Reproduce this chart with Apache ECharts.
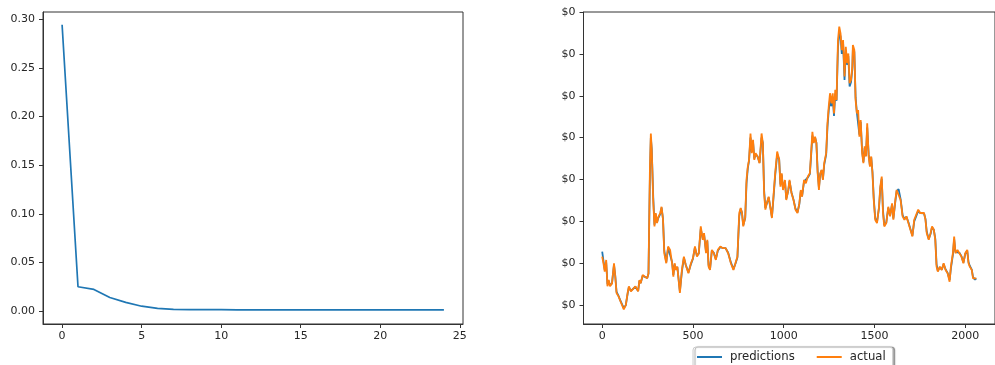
<!DOCTYPE html>
<html>
<head>
<meta charset="utf-8">
<script src="https://cdn.jsdelivr.net/npm/echarts@6/dist/echarts.min.js"></script>
<style>
  html, body { margin: 0; padding: 0; background: #fff; }
  #chart { width: 995px; height: 365px; }
</style>
</head>
<body>
<div id="chart"></div>
<script>
// training loss per epoch (left plot)
var epochs = [0, 1, 2, 3, 4, 5, 6, 7, 8, 9, 10, 11, 12, 13, 14, 15, 16, 17, 18, 19, 20, 21, 22, 23, 24];
var loss = [0.2945, 0.0250, 0.0223, 0.0140, 0.0089, 0.0050, 0.0028, 0.0018, 0.0015, 0.0014, 0.0014, 0.0013,
  0.0013, 0.0013, 0.0013, 0.0013, 0.0012, 0.0012, 0.0012, 0.0012, 0.0012, 0.0012, 0.0012, 0.0012, 0.0012];
var lossTicksX = [0, 5, 10, 15, 20, 25];
var lossTicksY = [0, 0.05, 0.10, 0.15, 0.20, 0.25, 0.30];

// price series (right plot), y in cents
var priceX = [0, 7, 14, 22, 29, 36, 43, 54, 65, 72, 79, 90, 101, 112, 119, 130, 140, 147, 158, 169, 183, 198, 205, 212,
  223, 234, 248, 255, 263, 268, 273, 281, 288, 295, 302, 309, 320, 327, 335, 342, 353, 363, 374, 385, 392, 399, 406,
  414, 428, 439, 450, 460, 475, 489, 500, 511, 522, 532, 543, 554, 561, 572, 579, 586, 594, 604, 615, 626, 637, 651,
  665, 680, 694, 709, 723, 734, 745, 755, 763, 770, 777, 788, 795, 802, 809, 817, 824, 831, 838, 845, 856, 867, 878,
  885, 892, 899, 906, 917, 928, 935, 942, 953, 964, 975, 982, 989, 996, 1007, 1014, 1025, 1032, 1043, 1054, 1065,
  1076, 1086, 1094, 1101, 1112, 1122, 1133, 1144, 1151, 1158, 1165, 1173, 1180, 1187, 1194, 1201, 1209, 1216, 1223,
  1234, 1241, 1248, 1255, 1263, 1270, 1277, 1284, 1291, 1299, 1306, 1313, 1320, 1327, 1335, 1342, 1349, 1356, 1363,
  1371, 1378, 1381, 1389, 1396, 1403, 1410, 1417, 1424, 1432, 1439, 1446, 1453, 1460, 1468, 1475, 1482, 1489, 1496,
  1504, 1514, 1525, 1532, 1540, 1547, 1554, 1565, 1576, 1586, 1597, 1604, 1615, 1622, 1633, 1644, 1655, 1665, 1676,
  1687, 1698, 1709, 1719, 1730, 1741, 1752, 1763, 1773, 1781, 1788, 1799, 1809, 1817, 1827, 1835, 1842, 1849, 1860,
  1871, 1881, 1892, 1903, 1914, 1921, 1932, 1939, 1946, 1957, 1968, 1979, 1990, 2000, 2011, 2018, 2025, 2036, 2043,
  2054, 2061];
var actual = [1.16, 1.0, 0.8, 1.08, 0.45, 0.6, 0.45, 0.52, 1.0, 0.68, 0.29, 0.21, 0.09, 0.05, -0.1, 0.0, 0.29, 0.45,
  0.33, 0.37, 0.45, 0.33, 0.6, 0.52, 0.72, 0.68, 0.64, 0.76, 3.3, 4.1, 3.7, 2.5, 1.88, 2.2, 1.96, 2.1, 2.2, 2.35, 2.04,
  1.24, 1.0, 1.4, 1.32, 1.0, 0.68, 1.0, 0.84, 0.92, 0.29, 0.84, 1.16, 0.96, 0.76, 1.0, 1.12, 1.4, 1.16, 1.24, 1.88,
  1.56, 1.72, 1.24, 1.56, 0.92, 0.84, 1.32, 1.24, 1.08, 1.32, 1.4, 1.36, 1.36, 1.24, 1.0, 0.84, 1.0, 1.16, 2.2, 2.32,
  2.2, 1.88, 2.1, 2.99, 3.3, 3.47, 4.1, 3.63, 3.95, 3.47, 3.63, 3.55, 3.39, 4.1, 3.87, 2.67, 2.28, 2.43, 2.59, 2.28,
  2.08, 2.51, 3.15, 3.67, 3.47, 2.83, 3.15, 2.75, 2.99, 2.51, 2.75, 2.99, 2.67, 2.51, 2.28, 2.2, 2.43, 2.75, 2.59,
  2.99, 2.91, 3.07, 3.15, 3.63, 4.14, 3.87, 4.02, 3.87, 3.15, 2.75, 3.15, 3.23, 2.99, 3.39, 3.63, 4.34, 4.74, 5.06,
  4.82, 5.06, 4.58, 5.14, 4.9, 6.33, 6.65, 6.49, 6.09, 6.33, 5.46, 6.17, 5.78, 6.01, 5.3, 5.38, 5.7, 6.21, 6.09, 4.9,
  4.58, 4.66, 4.02, 4.42, 3.63, 3.39, 3.79, 3.55, 4.34, 3.55, 3.31, 3.55, 3.15, 2.51, 2.04, 1.96, 2.35, 2.83, 3.07,
  2.2, 1.88, 1.96, 2.35, 2.12, 2.43, 2.04, 2.51, 2.75, 2.79, 2.51, 2.12, 2.04, 2.12, 1.96, 1.8, 1.64, 2.04, 2.04,
  2.28, 2.2, 2.16, 2.2, 2.04, 1.72, 1.56, 1.72, 1.88, 1.8, 1.56, 0.92, 0.8, 0.92, 0.84, 1.0, 0.84, 0.76, 0.56, 0.92,
  1.24, 1.64, 1.24, 1.32, 1.24, 1.16, 1.0, 1.24, 1.32, 1.0, 0.92, 0.84, 0.64, 0.6, 0.64];
var predictions = [1.28, 1.06, 0.84, 1.02, 0.5, 0.58, 0.47, 0.52, 0.96, 0.7, 0.32, 0.22, 0.1, 0.06, -0.07, 0.0, 0.27,
  0.43, 0.34, 0.37, 0.44, 0.34, 0.58, 0.53, 0.7, 0.68, 0.65, 0.75, 3.1, 4.0, 3.72, 2.6, 1.92, 2.17, 1.98, 2.08, 2.18,
  2.33, 2.06, 1.3, 1.03, 1.37, 1.33, 1.03, 0.72, 0.97, 0.86, 0.91, 0.33, 0.8, 1.13, 0.97, 0.78, 0.98, 1.11, 1.38, 1.18,
  1.23, 1.82, 1.59, 1.7, 1.27, 1.53, 0.96, 0.85, 1.3, 1.25, 1.1, 1.3, 1.39, 1.36, 1.36, 1.25, 1.02, 0.86, 0.99, 1.14,
  2.12, 2.3, 2.21, 1.91, 2.08, 2.9, 3.26, 3.45, 4.0, 3.66, 3.9, 3.5, 3.6, 3.55, 3.4, 4.0, 3.88, 2.75, 2.32, 2.41, 2.57,
  2.3, 2.1, 2.47, 3.1, 3.6, 3.48, 2.88, 3.12, 2.78, 2.96, 2.54, 2.73, 2.96, 2.69, 2.52, 2.3, 2.22, 2.41, 2.72, 2.6,
  2.95, 2.91, 3.05, 3.13, 3.57, 4.05, 3.89, 4.0, 3.88, 3.2, 2.8, 3.12, 3.22, 3.01, 3.35, 3.6, 4.25, 4.65, 4.9, 4.75,
  4.98, 4.52, 5.05, 4.88, 6.15, 6.5, 6.42, 6.0, 6.28, 5.38, 6.05, 5.74, 5.95, 5.22, 5.33, 5.64, 6.1, 6.05, 4.96, 4.6,
  4.64, 4.07, 4.38, 3.68, 3.42, 3.75, 3.56, 4.24, 3.6, 3.33, 3.53, 3.18, 2.56, 2.08, 1.98, 2.32, 2.78, 3.02, 2.26,
  1.91, 1.97, 2.32, 2.14, 2.41, 2.07, 2.48, 2.72, 2.77, 2.53, 2.15, 2.06, 2.11, 1.98, 1.82, 1.66, 2.0, 2.03, 2.25,
  2.2, 2.17, 2.19, 2.06, 1.75, 1.58, 1.7, 1.86, 1.8, 1.59, 0.98, 0.82, 0.9, 0.85, 0.98, 0.85, 0.77, 0.6, 0.88, 1.2,
  1.58, 1.27, 1.31, 1.25, 1.17, 1.02, 1.22, 1.3, 1.03, 0.94, 0.85, 0.67, 0.61, 0.64];
var priceTicksX = [0, 500, 1000, 1500, 2000];
var priceTicksY = [0, 1, 2, 3, 4, 5, 6, 7];

function pairs(xs, ys) {
  var out = [];
  for (var i = 0; i < xs.length; i++) out.push([xs[i], ys[i]]);
  return out;
}

var txt = { color: "#262626", fontSize: 11, fontFamily: "DejaVu Sans" };
var tick = { show: true, inside: false, length: 4, lineStyle: { color: "#333", width: 1 } };
var axLine = { show: true, onZero: false, lineStyle: { color: "#333", width: 1 } };

var myChart = echarts.init(document.getElementById("chart"));
myChart.setOption({
  animation: false,
  backgroundColor: "#fff",
  color: ["#1f77b4", "#ff7f0e"],
  grid: [
    { left: 43, top: 12, width: 420, height: 312, show: true, borderColor: "#333", borderWidth: 1 },
    { left: 583.5, top: 12, width: 420, height: 312, show: true, borderColor: "#333", borderWidth: 1 }
  ],
  legend: {
    data: ["predictions", "actual"],
    left: 693,
    top: 347,
    icon: "rect",
    itemWidth: 25,
    itemHeight: 2,
    itemGap: 22,
    padding: [4, 7, 8, 4],
    borderColor: "#ccc",
    borderWidth: 1,
    borderRadius: 3,
    backgroundColor: "#fff",
    shadowColor: "rgba(0,0,0,0.35)",
    shadowOffsetX: 2,
    shadowBlur: 1,
    textStyle: { color: "#262626", fontSize: 11.7, fontFamily: "DejaVu Sans", padding: [0, 0, 0, 3] }
  },
  xAxis: [
    {
      type: "value", gridIndex: 0, min: -1.2, max: 25.2,
      axisLine: axLine, axisTick: Object.assign({ customValues: lossTicksX }, tick),
      axisLabel: Object.assign({ customValues: lossTicksX, margin: 7 }, txt),
      splitLine: { show: false }
    },
    {
      type: "value", gridIndex: 1, min: -103, max: 2164,
      axisLine: axLine, axisTick: Object.assign({ customValues: priceTicksX }, tick),
      axisLabel: Object.assign({
        customValues: priceTicksX, margin: 7,
        formatter: function (v) { return String(v); }
      }, txt),
      splitLine: { show: false }
    }
  ],
  yAxis: [
    {
      type: "value", gridIndex: 0, min: -0.0133, max: 0.3076,
      axisLine: axLine, axisTick: Object.assign({ customValues: lossTicksY }, tick),
      axisLabel: Object.assign({
        customValues: lossTicksY, margin: 8,
        formatter: function (v) { return v.toFixed(2); }
      }, txt),
      splitLine: { show: false }
    },
    {
      type: "value", gridIndex: 1, min: -0.45, max: 7.0,
      axisLine: axLine, axisTick: Object.assign({ customValues: priceTicksY }, tick),
      axisLabel: Object.assign({
        customValues: priceTicksY, margin: 8,
        // prices are fractions of a dollar, so every label rounds to $0
        formatter: function (v) { return "$" + (v / 100).toFixed(0); }
      }, txt),
      splitLine: { show: false }
    }
  ],
  series: [
    {
      name: "loss", type: "line", xAxisIndex: 0, yAxisIndex: 0,
      data: pairs(epochs, loss), showSymbol: false,
      lineStyle: { color: "#1f77b4", width: 1.7 }, itemStyle: { color: "#1f77b4" }
    },
    {
      name: "predictions", type: "line", xAxisIndex: 1, yAxisIndex: 1,
      data: pairs(priceX, predictions), showSymbol: false,
      lineStyle: { color: "#1f77b4", width: 1.8 }, itemStyle: { color: "#1f77b4" }
    },
    {
      name: "actual", type: "line", xAxisIndex: 1, yAxisIndex: 1,
      data: pairs(priceX, actual), showSymbol: false,
      lineStyle: { color: "#ff7f0e", width: 1.8 }, itemStyle: { color: "#ff7f0e" }
    }
  ]
});
</script>
</body>
</html>
